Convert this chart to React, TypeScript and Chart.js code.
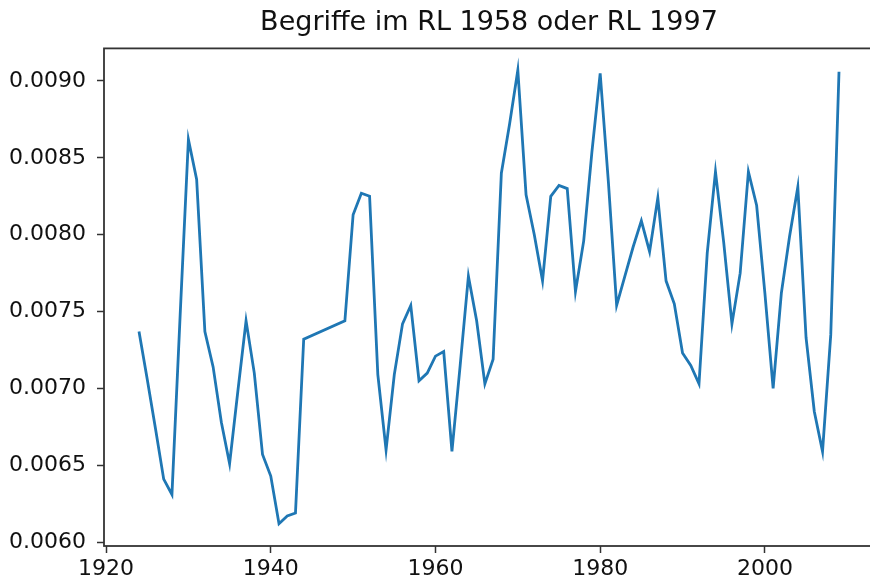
import React, { useEffect, useRef } from "react";
import { Chart, registerables } from "chart.js";

Chart.register(...registerables);

const years: number[] = [
  1924, 1925, 1926, 1927, 1928, 1929, 1930, 1931, 1932, 1933, 1934, 1935, 1936, 1937, 1938, 1939,
  1940, 1941, 1942, 1943, 1944, 1949, 1950, 1951, 1952, 1953, 1954, 1955, 1956, 1957, 1958, 1959,
  1960, 1961, 1962, 1963, 1964, 1965, 1966, 1967, 1968, 1969, 1970, 1971, 1972, 1973, 1974, 1975,
  1976, 1977, 1978, 1979, 1980, 1981, 1982, 1983, 1984, 1985, 1986, 1987, 1988, 1989, 1990, 1991,
  1992, 1993, 1994, 1995, 1996, 1997, 1998, 1999, 2000, 2001, 2002, 2003, 2004, 2005, 2006, 2007,
  2008, 2009,
];

const values: number[] = [
  0.00737, 0.00706, 0.00674, 0.00641, 0.00631, 0.00748, 0.00862, 0.00836, 0.00737, 0.00714,
  0.00678, 0.00651, 0.00698, 0.00744, 0.0071, 0.00657, 0.00643, 0.00612, 0.00617, 0.00619,
  0.00732, 0.00744, 0.00813, 0.00827, 0.00825, 0.00709, 0.0066, 0.00709, 0.00742, 0.00754,
  0.00705, 0.0071, 0.00721, 0.00724, 0.00659, 0.00715, 0.00773, 0.00744, 0.00703, 0.00719,
  0.0084, 0.00872, 0.00907, 0.00826, 0.008, 0.0077, 0.00825, 0.00832, 0.0083, 0.00763,
  0.00796, 0.00854, 0.00905, 0.00834, 0.00754, 0.00773, 0.00792, 0.00809, 0.00789, 0.00824,
  0.0077, 0.00755, 0.00723, 0.00715, 0.00703, 0.00788, 0.00841, 0.00795, 0.00742, 0.00775,
  0.00841, 0.00819, 0.00762, 0.007, 0.00762, 0.00799, 0.00831, 0.00733, 0.00685, 0.00659,
  0.00735, 0.00906,
];

const xTicks: number[] = [1920, 1940, 1960, 1980, 2000];
const yTicks: number[] = [0.006, 0.0065, 0.007, 0.0075, 0.008, 0.0085, 0.009];

const titleText = "Begriffe im RL 1958 oder RL 1997";

const framePlugin = {
  id: "frame",
  afterDatasetsDraw(chart: any) {
    const { ctx, chartArea } = chart;
    ctx.save();
    ctx.strokeStyle = "#333333";
    ctx.lineWidth = 1.8;
    ctx.strokeRect(chartArea.left, chartArea.top, chartArea.right - chartArea.left, chartArea.bottom - chartArea.top);
    ctx.restore();
  },
};

export default function App() {
  const ref = useRef<HTMLCanvasElement | null>(null);

  useEffect(() => {
    if (!ref.current) return;
    const font = "'DejaVu Sans', sans-serif";
    const chart = new Chart(ref.current, {
      type: "line",
      data: {
        datasets: [
          {
            data: years.map((x, i) => ({ x, y: values[i] })),
            borderColor: "#1f77b4",
            borderWidth: 2.8,
            pointRadius: 0,
            tension: 0,
            fill: false,
          },
        ],
      },
      options: {
        animation: false,
        responsive: false,
        layout: { padding: 0 },
        plugins: {
          legend: { display: false },
          tooltip: { enabled: false },
          title: {
            display: true,
            text: titleText,
            fullSize: false,
            color: "#111111",
            font: { family: font, size: 27, weight: "normal" },
            padding: { top: 7, bottom: 9 },
          },
        },
        scales: {
          x: {
            type: "linear",
            min: 1919.75,
            max: 2013.25,
            afterBuildTicks: (scale: any) => {
              scale.ticks = xTicks.map((v) => ({ value: v }));
            },
            afterFit: (scale: any) => {
              scale.height = 37;
            },
            ticks: {
              color: "#111111",
              font: { family: font, size: 22 },
              padding: 3,
              maxRotation: 0,
              callback: (v: any) => String(v),
            },
            grid: {
              display: true,
              drawOnChartArea: false,
              drawTicks: true,
              tickLength: 7,
              tickColor: "#333333",
              tickWidth: 1.5,
            },
            border: { display: false },
          },
          y: {
            type: "linear",
            min: 0.005975,
            max: 0.009212,
            afterBuildTicks: (scale: any) => {
              scale.ticks = yTicks.map((v) => ({ value: v }));
            },
            afterFit: (scale: any) => {
              scale.width = 104;
            },
            ticks: {
              color: "#111111",
              font: { family: font, size: 22 },
              padding: 11,
              callback: (v: any) => Number(v).toFixed(4),
            },
            grid: {
              display: true,
              drawOnChartArea: false,
              drawTicks: true,
              tickLength: 7,
              tickColor: "#333333",
              tickWidth: 1.5,
            },
            border: { display: false },
          },
        },
      },
      plugins: [framePlugin],
    });
    return () => chart.destroy();
  }, []);

  return (
    <div
      style={{
        position: "fixed",
        left: 0,
        top: 0,
        width: 870,
        height: 583,
        overflow: "hidden",
        background: "#ffffff",
      }}
    >
      <canvas ref={ref} width={874} height={583} style={{ display: "block" }} />
    </div>
  );
}
